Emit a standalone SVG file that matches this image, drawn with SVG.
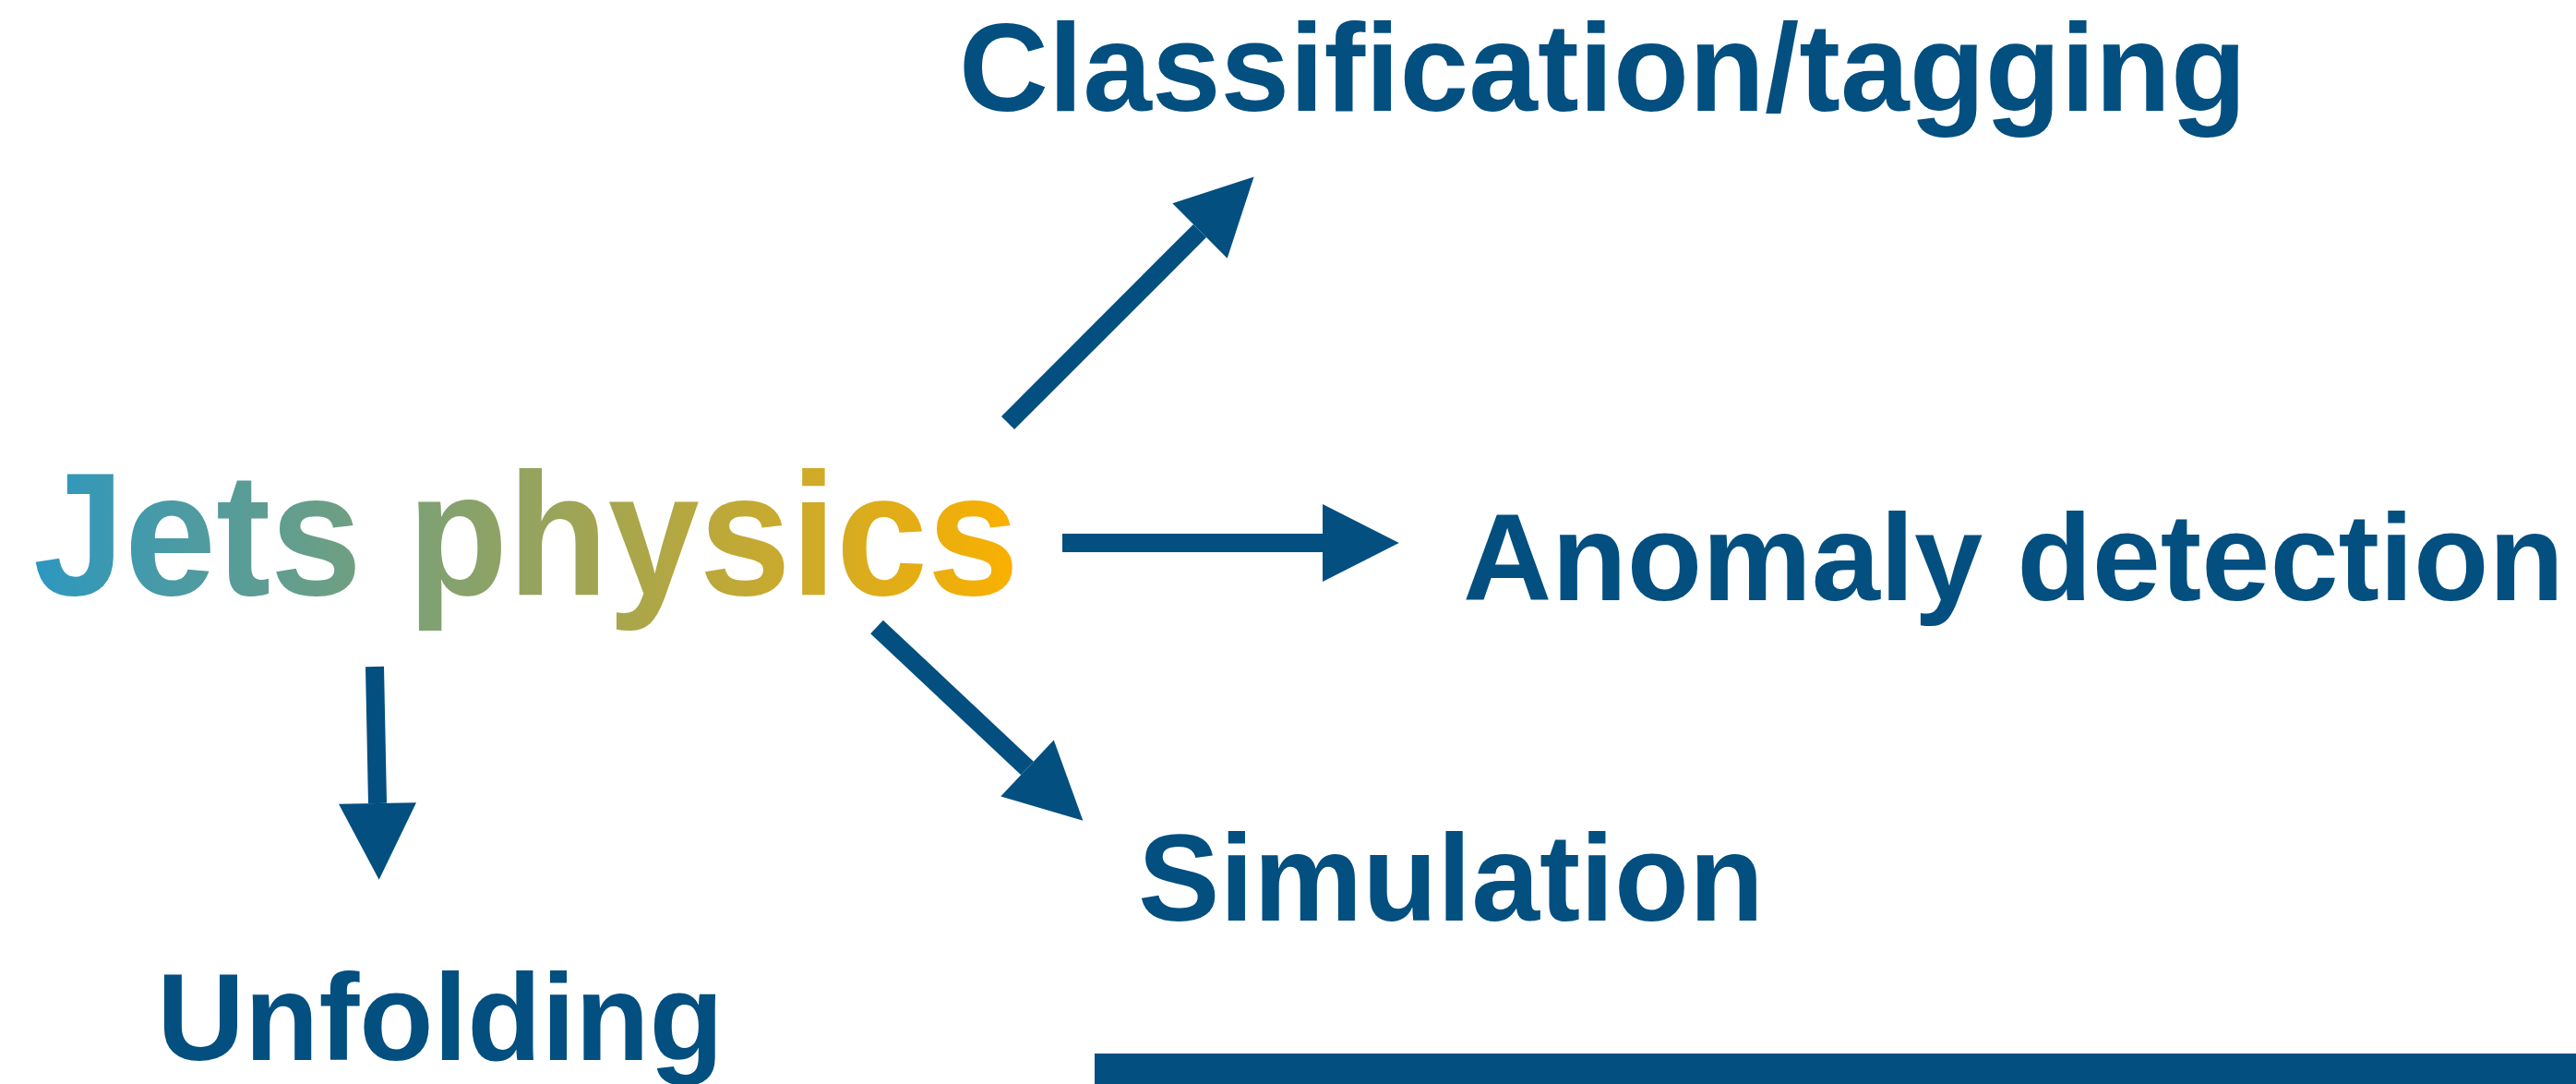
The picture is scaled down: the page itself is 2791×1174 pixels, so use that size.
<svg xmlns="http://www.w3.org/2000/svg" width="2791" height="1174" viewBox="0 0 2791 1174">
  <style>
    .lbl { font-family: "Liberation Sans", Arial, Helvetica, sans-serif; font-weight: bold; fill: #024F80; }
    .arrow { stroke: #024F80; stroke-width: 20; fill: none; stroke-linecap: butt; marker-end: url(#head); }
  </style>
  <defs>
    <linearGradient id="jetgrad" gradientUnits="userSpaceOnUse" x1="42" y1="0" x2="1098" y2="0">
      <stop offset="0" stop-color="#2E97BF"/>
      <stop offset="1" stop-color="#FAB000"/>
    </linearGradient>
    <marker id="head" markerUnits="strokeWidth" markerWidth="4.2" markerHeight="4.2" viewBox="0 0 4.1 4.16" refX="0" refY="2.08" orient="auto">
      <path d="M0,0 L4.1,2.08 L0,4.16 Z" fill="#024F80"/>
    </marker>
  </defs>
  <rect width="2791" height="1174" fill="#FFFFFF"/>

  <g id="node-jets">
    <text x="36" y="644" font-family="Liberation Sans, Arial, sans-serif" font-weight="bold" font-size="190" fill="url(#jetgrad)" textLength="1068" lengthAdjust="spacingAndGlyphs">Jets physics</text>
  </g>
  <g id="node-classification">
    <text class="lbl" x="1039" y="120" font-size="135" textLength="1395" lengthAdjust="spacingAndGlyphs">Classification/tagging</text>
  </g>
  <g id="node-anomaly">
    <text class="lbl" x="1585" y="650" font-size="134" textLength="1193" lengthAdjust="spacingAndGlyphs">Anomaly detection</text>
  </g>
  <g id="node-simulation">
    <text class="lbl" x="1233" y="997" font-size="133" textLength="678" lengthAdjust="spacingAndGlyphs">Simulation</text>
  </g>
  <g id="node-unfolding">
    <text class="lbl" x="170" y="1148" font-size="133" textLength="614" lengthAdjust="spacingAndGlyphs">Unfolding</text>
  </g>

  <g id="connectors">
    <line class="arrow" x1="1092" y1="458" x2="1300" y2="250"/>
    <line class="arrow" x1="1151" y1="588" x2="1433" y2="588"/>
    <line class="arrow" x1="950" y1="679" x2="1113" y2="832"/>
    <line class="arrow" x1="406" y1="722" x2="409" y2="870"/>
  </g>

  <rect id="bottom-bar" x="1186" y="1141" width="1605" height="33" fill="#024F80"/>
</svg>
